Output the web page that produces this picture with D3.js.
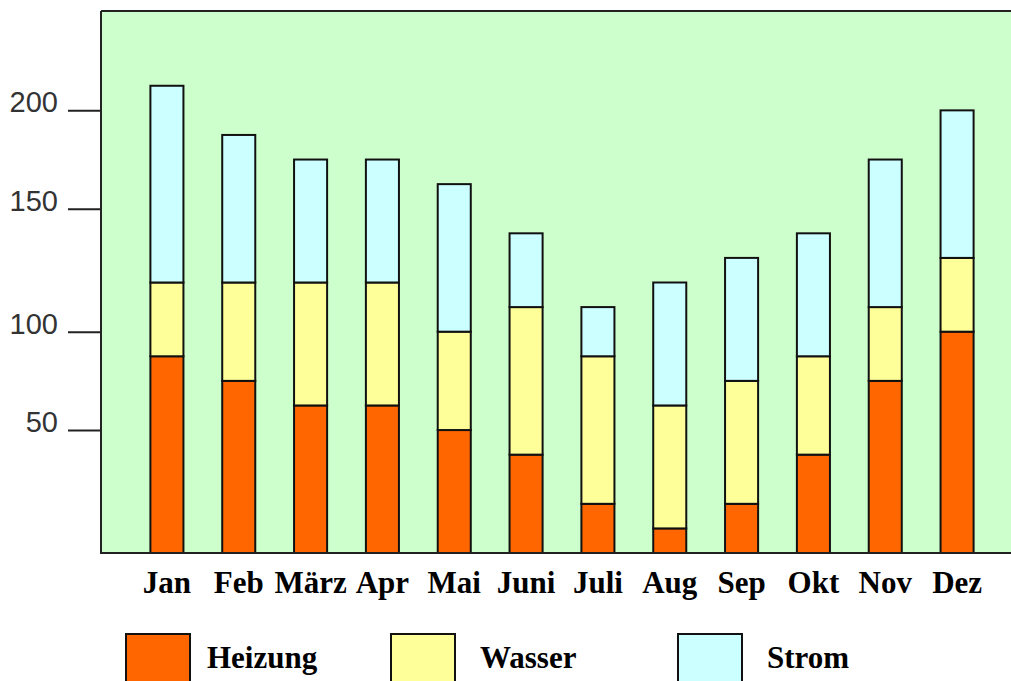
<!DOCTYPE html>
<html>
<head>
<meta charset="utf-8">
<script src="https://cdn.jsdelivr.net/npm/d3@7"></script>
<style>
  body { margin: 0; background: #fff; }
  .month { font-family: "Liberation Serif", "Times New Roman", serif; font-weight: bold; font-size: 31px; }
  .legend-label { font-family: "Liberation Serif", "Times New Roman", serif; font-weight: bold; font-size: 31px; }
  .y-axis text { font-family: "Liberation Sans", Arial, sans-serif; font-size: 29px; fill: #333; }
</style>
</head>
<body>
<svg id="chart" width="1011" height="681"></svg>
<script>
const months = ["Jan", "Feb", "März", "Apr", "Mai", "Juni", "Juli", "Aug", "Sep", "Okt", "Nov", "Dez"];
const heizung = [90, 80, 70, 70, 60, 50, 30, 20, 30, 50, 80, 100];
const wasser  = [30, 40, 50, 50, 40, 60, 60, 50, 50, 40, 30, 30];
const strom   = [80, 60, 50, 50, 60, 30, 20, 50, 50, 50, 60, 60];
const seriesNames = ["Heizung", "Wasser", "Strom"];
const seriesColors = ["#ff6600", "#ffff99", "#ccffff"];
// tick positions as drawn on the original axis and the labels printed there
const axisTickValues = [60, 100, 150, 190];
const axisTickLabels = ["50", "100", "150", "200"];

const svg = d3.select("#chart");
const plot = { left: 101, top: 11, right: 1012, bottom: 553 };

const rows = months.map((m, i) => ({ month: m, Heizung: heizung[i], Wasser: wasser[i], Strom: strom[i] }));
const stacked = d3.stack().keys(seriesNames)(rows);

const x = d3.scaleBand()
  .domain(months)
  .range([131, 993])
  .paddingInner(0.54)
  .paddingOuter(0.27);

const y = d3.scaleLinear()
  .domain([10, 230])
  .range([plot.bottom, plot.top + 1])
  .clamp(true);

// background
svg.append("rect")
  .attr("x", plot.left).attr("y", plot.top)
  .attr("width", plot.right - plot.left).attr("height", plot.bottom - plot.top)
  .attr("fill", "#ccffcc");

// top border
svg.append("line")
  .attr("x1", plot.left).attr("x2", plot.right)
  .attr("y1", plot.top).attr("y2", plot.top)
  .attr("stroke", "#222").attr("stroke-width", 2);

// bars
const colour = d3.scaleOrdinal().domain(seriesNames).range(seriesColors);
svg.append("g")
  .selectAll("g")
  .data(stacked)
  .enter()
  .append("g")
    .attr("fill", d => colour(d.key))
    .selectAll("rect")
      .data(d => d)
      .enter()
      .append("rect")
        .attr("x", d => x(d.data.month))
        .attr("y", d => y(d[1]))
        .attr("width", x.bandwidth())
        .attr("height", d => y(d[0]) - y(d[1]))
        .attr("stroke", "#111")
        .attr("stroke-width", 2);

// y axis
const yAxis = svg.append("g")
  .attr("class", "y-axis")
  .attr("transform", `translate(${plot.left},0)`)
  .call(d3.axisLeft(y)
    .tickValues(axisTickValues)
    .tickSize(33)
    .tickPadding(10)
    .tickFormat((d, i) => axisTickLabels[i]));
yAxis.select(".domain").remove();
yAxis.selectAll(".tick line").attr("stroke", "#222").attr("stroke-width", 2);
yAxis.selectAll(".tick text").attr("dy", "0.05em");

svg.append("line")
  .attr("x1", plot.left).attr("x2", plot.left)
  .attr("y1", plot.top).attr("y2", plot.bottom + 1)
  .attr("stroke", "#222").attr("stroke-width", 2);

// baseline
svg.append("line")
  .attr("x1", plot.left).attr("x2", plot.right)
  .attr("y1", plot.bottom).attr("y2", plot.bottom)
  .attr("stroke", "#222").attr("stroke-width", 2);

// month labels
svg.append("g")
  .selectAll("text")
  .data(months)
  .enter()
  .append("text")
    .attr("class", "month")
    .attr("x", d => x(d) + x.bandwidth() / 2)
    .attr("y", 593)
    .attr("text-anchor", "middle")
    .text(d => d);

// legend
const legendX = [126, 391, 678];
const legendTextOffset = [81, 89, 89];
const legend = svg.append("g")
  .selectAll("g")
  .data(seriesNames)
  .enter()
  .append("g")
    .attr("transform", (d, i) => `translate(${legendX[i]},634)`);
legend.append("rect")
  .attr("width", 64).attr("height", 60)
  .attr("fill", d => colour(d))
  .attr("stroke", "#111").attr("stroke-width", 2);
legend.append("text")
  .attr("class", "legend-label")
  .attr("x", (d, i) => legendTextOffset[i]).attr("y", 34)
  .text(d => d);
</script>
</body>
</html>
